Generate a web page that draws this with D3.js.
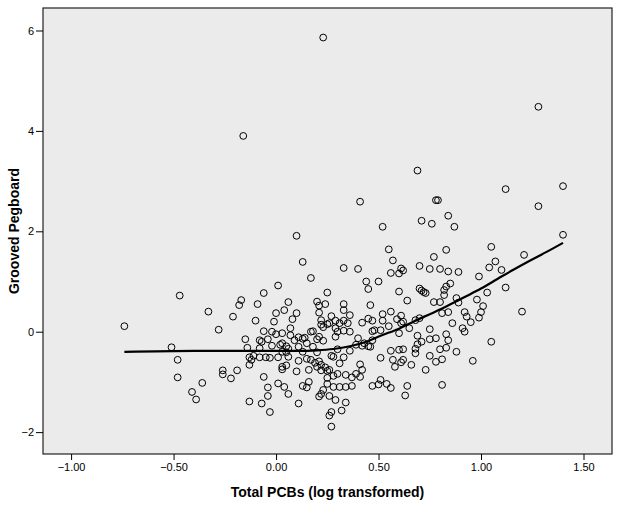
<!DOCTYPE html>
<html>
<head>
<meta charset="utf-8">
<script src="https://cdn.jsdelivr.net/npm/d3@7"></script>
<style>
  body { margin: 0; background: #fff; }
  text { font-family: "Liberation Sans", Arial, sans-serif; }
</style>
</head>
<body>
<svg id="chart"></svg>
<script>
const width = 620
const height = 507

// scatter: total PCBs (log) vs grooved pegboard score
const pcb = [
  0.23, -0.16, 0.69, 0.41, 0.52, 0.71, 0.10, 0.55, 1.12, 1.40, 1.28, 0.78, 0.79, 0.76, 0.84, 0.87, 1.40, 1.05, 0.83, 1.28,
  -0.74, -0.47, -0.51, -0.48, -0.48, -0.33, -0.28, -0.21, -0.18, -0.26, -0.26, -0.22, -0.19,
  -0.41, -0.39, -0.36, -0.13, -0.07, -0.03, -0.04, -0.04, 0.01, 0.04, 0.06, 0.11, 0.13, 0.15, 0.16, 0.21, 0.22, 0.26, 0.29,
  0.34, 0.32, 0.27, 0.26, 0.27, 0.25, 0.28, 0.31, 0.34, 0.37, 0.47, 0.50, 0.54, 0.56, 0.64, 0.63, 0.81, 0.23, 0.51,
  0.13, 0.17, 0.01, -0.06, -0.17, -0.09, -0.10, 0.06, 0.00, 0.04, 0.10, 0.08, -0.01, -0.06, -0.02, 0.00, 0.03, 0.07, 0.07,
  0.11, 0.13, -0.15, -0.14, -0.08, -0.08, -0.07, -0.04, -0.02, 0.02, 0.03, 0.05, 0.09, 0.11, 0.14, 0.15, 0.17, 0.18, 0.20,
  0.20, 0.21, 0.24, 0.21, 0.22, 0.22, 0.23, 0.25, 0.25, 0.21, 0.23, 0.18, 0.20, 0.15, 0.11, 0.06, 0.03, 0.05, 0.06, 0.01,
  -0.03, -0.05, -0.08, -0.13, -0.13, -0.11, -0.12, 0.03, 0.03, 0.05, 0.10, 0.17, 0.19, 0.21, 0.20, 0.22, 0.24, 0.22, 0.25,
  0.27, 0.28, 0.30, 0.33, 0.36, 0.39, 0.40, 0.42, 0.43, 0.45, 0.46, 0.47, 0.29, 0.30, 0.33, 0.36, 0.31, 0.33, 0.35, 0.36,
  0.33, 0.33, 0.29, 0.29, 0.26, 0.27, 0.42, 0.45, 0.47, 0.48, 0.47, 0.46, 0.45, 0.44, 0.50, 0.33, 0.40, 0.41, 0.42, 0.39,
  0.37, 0.41, 0.34, 0.31, 0.26, 0.28, 0.30, 0.25, -0.06, 0.13, 0.16,
  1.21, 1.07, 1.04, 1.10, 1.12, 0.99, 1.03, 0.98, 1.01, 1.00, 0.99, 0.95, 1.20, 1.05, 0.96, 0.77, 0.70, 0.75, 0.80, 0.84,
  0.89, 0.57, 0.56, 0.61, 0.62, 0.60, 0.85, 0.83, 0.82, 0.82, 0.88, 0.89, 0.77, 0.80, 0.70, 0.71, 0.72, 0.73, 0.60, 0.64,
  0.92, 0.93, 0.84, 0.81, 0.86, 0.91, 0.92, 0.56, 0.52, 0.52, 0.59, 0.61, 0.62, 0.61, 0.68, 0.70, 0.55, 0.60, 0.65, 0.69,
  0.75, 0.75, 0.78, 0.83, 0.84, 0.83, 0.80, 0.88, 0.68, 0.69, 0.71, 0.68, 0.75, 0.78, 0.81, 0.73, 0.56, 0.60, 0.62, 0.57,
  0.62, 0.61, 0.58, 0.51, 0.66, 0.51
]
const pegboard = [
  5.86, 3.90, 3.21, 2.59, 2.09, 2.21, 1.91, 1.64, 2.84, 2.90, 2.50, 2.62, 2.62, 2.15, 2.31, 2.09, 1.93, 1.69, 1.63, 4.48,
  0.11, 0.72, -0.31, -0.56, -0.91, 0.40, 0.04, 0.30, 0.53, -0.77, -0.85, -0.93, -0.77,
  -1.20, -1.35, -1.02, -1.39, -1.43, -1.60, -1.28, -1.11, -1.03, -1.10, -1.24, -1.43, -1.08, -1.11, -1.00, -1.29, -1.24, -1.28, -1.36,
  -1.41, -1.57, -1.60, -1.67, -1.89, -1.04, -1.10, -1.10, -1.10, -1.08, -1.08, -1.05, -1.04, -1.12, -1.08, -1.27, -1.06, -1.16, -0.96,
  1.39, 1.07, 0.92, 0.77, 0.63, 0.55, 0.22, 0.59, 0.37, 0.43, 0.37, 0.25, 0.20, 0.01, 0.00, -0.05, -0.03, 0.07, -0.07,
  -0.11, -0.14, -0.15, -0.32, -0.33, -0.17, -0.20, -0.15, -0.28, -0.26, -0.23, -0.29, -0.17, -0.30, -0.12, -0.23, 0.00, 0.01, -0.15,
  0.60, 0.52, 0.55, 0.38, 0.23, 0.14, 0.09, 0.15, 0.78, -0.10, -0.18, -0.30, -0.41, -0.54, -0.58, -0.34, -0.40, -0.41, -0.50, -0.51,
  -0.52, -0.51, -0.51, -0.51, -0.66, -0.48, -0.56, -0.70, -0.75, -0.67, -0.79, -0.56, -0.62, -0.59, -0.70, -0.66, -0.71, -0.77, -0.78,
  -0.48, -0.50, -0.35, -0.51, -0.38, -0.26, -0.13, -0.28, -0.23, -0.29, -0.30, -0.17, -0.10, 0.00, 0.02, 0.00, 0.17, 0.22, 0.17, 0.33,
  0.43, 0.55, 0.22, 0.07, 0.17, 0.31, 0.18, 0.26, 0.22, 0.03, 0.01, 0.53, 0.85, 1.00, 1.00, 1.27, 1.25, -0.65, -0.76, -0.84,
  -0.91, -0.90, -0.86, -0.63, -0.76, -0.88, -0.84, -0.92, -0.90, -0.40, -0.76,
  1.53, 1.40, 1.28, 1.23, 0.88, 1.10, 0.78, 0.64, 0.51, 0.39, 0.28, 0.19, 0.40, -0.20, -0.58, 1.49, 1.31, 1.25, 1.25, 1.20,
  1.19, 1.42, 1.17, 1.26, 1.22, 1.16, 0.96, 0.90, 0.83, 0.73, 0.67, 0.58, 0.59, 0.59, 0.86, 0.82, 0.79, 0.77, 0.80, 0.62,
  0.39, 0.30, 0.39, 0.37, 0.17, 0.07, 0.00, 0.40, 0.35, 0.22, 0.25, 0.32, 0.20, 0.17, 0.23, 0.27, 0.11, -0.03, 0.07, -0.08,
  0.05, -0.15, -0.13, -0.05, -0.17, -0.32, -0.35, -0.40, -0.34, -0.25, -0.20, -0.43, -0.48, -0.60, -0.55, -0.76, -0.38, -0.36, -0.35, -0.56,
  -0.56, -0.61, -0.70, -0.52, -0.66, 0.03
]

// fit line (loess-like)
const fitX = [-0.74, -0.40, -0.10, 0.10, 0.20, 0.28, 0.36, 0.44, 0.51, 0.60, 0.67, 0.75, 0.83, 0.92, 1.00, 1.08, 1.16, 1.24, 1.32, 1.40]
const fitY = [-0.40, -0.38, -0.38, -0.38, -0.37, -0.345, -0.29, -0.20, -0.08, 0.06, 0.20, 0.35, 0.50, 0.69, 0.86, 1.05, 1.24, 1.42, 1.59, 1.77]

const xTicks = [-1, -0.5, 0, 0.5, 1, 1.5]
const yTicks = [-2, 0, 2, 4, 6]

const margin = {top: 8, right: 8, bottom: 53, left: 43}

const svg = d3.select('#chart')
  .attr('width', width)
  .attr('height', height)

const x = d3.scaleLinear()
  .domain([-1.137, 1.639])
  .range([margin.left, width - margin.right])

const y = d3.scaleLinear()
  .domain([-2.436, 6.448])
  .range([height - margin.bottom, margin.top])

// plot background
svg.append('rect')
  .attr('x', margin.left)
  .attr('y', margin.top)
  .attr('width', width - margin.left - margin.right)
  .attr('height', height - margin.top - margin.bottom)
  .attr('fill', '#ebebeb')
  .attr('stroke', '#222')
  .attr('stroke-width', 1.2)

// axes
const xAxis = svg.append('g')
  .attr('transform', `translate(0,${height - margin.bottom})`)
  .call(d3.axisBottom(x).tickValues(xTicks).tickFormat(d3.format('.2f')).tickSize(6).tickPadding(3))
xAxis.select('.domain').remove()

const yAxis = svg.append('g')
  .attr('transform', `translate(${margin.left},0)`)
  .call(d3.axisLeft(y).tickValues(yTicks).tickFormat(d3.format('d')).tickSize(7).tickPadding(2))
yAxis.select('.domain').remove()

svg.selectAll('.tick text')
  .attr('font-size', 11)
  .attr('font-family', '"Liberation Sans", Arial, sans-serif')
  .attr('fill', '#000')
svg.selectAll('.tick line').attr('stroke', '#000')

// points
const pts = pcb.map((d, i) => ({x: d, y: pegboard[i]}))
svg.append('g')
  .selectAll('circle')
  .data(pts)
  .enter().append('circle')
    .attr('cx', d => x(d.x))
    .attr('cy', d => y(d.y))
    .attr('r', 3.4)
    .attr('fill', 'none')
    .attr('stroke', '#000')
    .attr('stroke-width', 1)

// fit line
const fit = fitX.map((d, i) => [d, fitY[i]])
svg.append('path')
  .datum(fit)
  .attr('fill', 'none')
  .attr('stroke', '#000')
  .attr('stroke-width', 2.2)
  .attr('d', d3.line().x(d => x(d[0])).y(d => y(d[1])).curve(d3.curveMonotoneX))

// axis titles
svg.append('text')
  .attr('x', (margin.left + width - margin.right) / 2)
  .attr('y', 497)
  .attr('text-anchor', 'middle')
  .attr('font-size', 14)
  .attr('font-weight', 'bold')
  .text('Total PCBs (log transformed)')

svg.append('text')
  .attr('transform', `translate(19,${(margin.top + height - margin.bottom) / 2}) rotate(-90)`)
  .attr('text-anchor', 'middle')
  .attr('font-size', 14)
  .attr('font-weight', 'bold')
  .text('Grooved Pegboard')
</script>
</body>
</html>
